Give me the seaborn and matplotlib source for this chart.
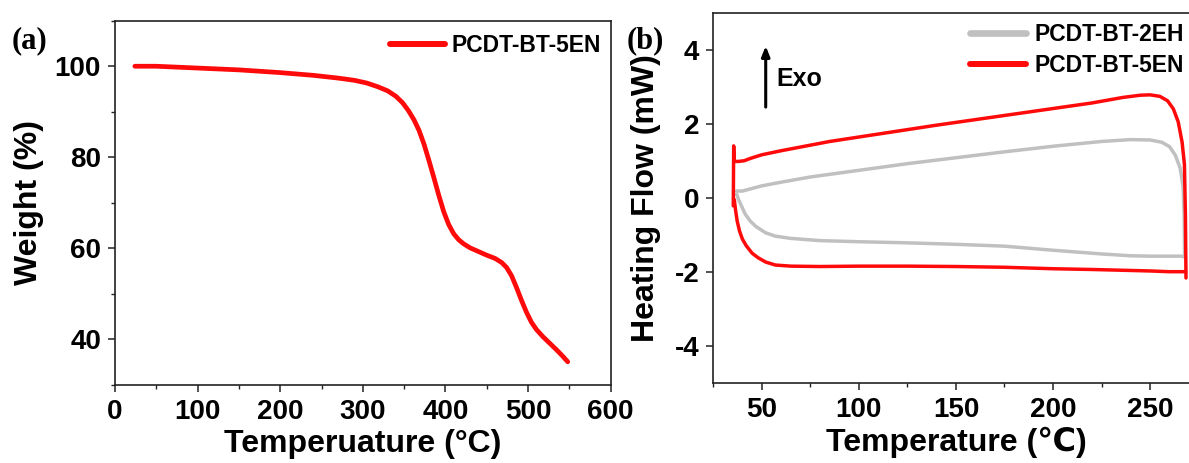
import numpy as np
import pandas as pd
import seaborn as sns
import matplotlib.pyplot as plt
from matplotlib.ticker import MultipleLocator
from matplotlib.lines import Line2D

# ---- TGA: PCDT-BT-5EN ----
tga_temp = [24, 50, 100, 150, 200, 240, 270, 290, 305, 318, 330, 340, 348,
            355, 362, 368, 374, 380, 386, 392, 398, 404, 410, 416, 422, 430,
            440, 450, 460, 468, 474, 480, 486, 492, 498, 504, 510, 518, 526,
            534, 541, 548]
tga_weight = [100.0, 100.0, 99.6, 99.2, 98.6, 98.0, 97.4, 96.9, 96.3, 95.5,
              94.6, 93.4, 92.0, 90.3, 88.2, 85.9, 82.9, 79.3, 75.5, 71.6,
              68.0, 65.2, 63.2, 61.9, 61.0, 60.1, 59.3, 58.5, 57.8, 56.9,
              55.8, 54.0, 51.4, 48.6, 46.0, 43.8, 42.2, 40.6, 39.2, 37.8,
              36.5, 35.1]

# ---- DSC: heating / cooling scans ----
eh_heat_temp = [37, 40, 45, 50, 60, 75, 100, 125, 150, 175, 200, 225, 240,
                250, 256, 260, 263, 265.5, 267, 267.6, 267.8]
eh_heat_flow = [0.18, 0.18, 0.25, 0.32, 0.42, 0.56, 0.74, 0.92, 1.08, 1.24,
                1.39, 1.52, 1.57, 1.56, 1.50, 1.38, 1.15, 0.80, 0.30, -0.50,
                -1.60]
eh_cool_temp = [267.8, 266, 250, 240, 225, 200, 175, 150, 125, 100, 80, 65,
                57, 52, 47, 44, 41.5, 39.5, 38, 37]
eh_cool_flow = [-1.60, -1.58, -1.58, -1.57, -1.52, -1.42, -1.31, -1.26,
                -1.22, -1.19, -1.16, -1.10, -1.04, -0.95, -0.78, -0.63,
                -0.45, -0.22, -0.05, 0.10]

en_heat_temp = [35.3, 35.5, 35.7, 36.5, 38, 41, 44, 50, 60, 70, 85, 100, 120,
                140, 160, 180, 200, 220, 236, 245, 250, 255, 259, 262, 264.5,
                266.5, 267.7, 268.2, 268.5]
en_heat_flow = [-0.22, 1.40, 1.00, 0.98, 0.98, 1.00, 1.06, 1.16, 1.27, 1.37,
                1.52, 1.64, 1.80, 1.96, 2.11, 2.26, 2.41, 2.56, 2.71, 2.77,
                2.78, 2.74, 2.62, 2.40, 2.05, 1.50, 0.90, -0.45, -2.17]
en_cool_temp = [268.3, 266, 260, 250, 235, 220, 200, 175, 150, 125, 100, 80,
                65, 57, 52, 48, 45, 42, 40, 38.5, 37.3, 36.5, 35.8]
en_cool_flow = [-2.00, -2.00, -2.00, -1.98, -1.96, -1.94, -1.92, -1.88,
                -1.86, -1.85, -1.85, -1.86, -1.85, -1.82, -1.74, -1.62,
                -1.50, -1.30, -1.12, -0.90, -0.63, -0.35, -0.05]

label_2eh = "PCDT-BT-2EH"
label_5en = "PCDT-BT-5EN"
RED = "#ff0a0a"
GRAY = "#c0c0c0"

tga = pd.DataFrame({"T": tga_temp, "W": tga_weight})

frames = []
for name, seg, t, q in [
    (label_2eh, "heat", eh_heat_temp, eh_heat_flow),
    (label_2eh, "cool", eh_cool_temp, eh_cool_flow),
    (label_5en, "heat", en_heat_temp, en_heat_flow),
    (label_5en, "cool", en_cool_temp, en_cool_flow),
]:
    frames.append(pd.DataFrame({"T": t, "Q": q, "sample": name, "scan": seg}))
dsc = pd.concat(frames, ignore_index=True)

sns.set_theme(style="ticks")
plt.rcParams["font.family"] = ["Liberation Sans", "DejaVu Sans"]
plt.rcParams["font.weight"] = "bold"
plt.rcParams["axes.labelweight"] = "bold"
plt.rcParams["axes.unicode_minus"] = False
plt.rcParams["text.color"] = "black"
plt.rcParams["axes.labelcolor"] = "black"
plt.rcParams["xtick.color"] = "black"
plt.rcParams["ytick.color"] = "black"
plt.rcParams["lines.solid_joinstyle"] = "round"
plt.rcParams["lines.solid_capstyle"] = "round"

W, H = 1189, 463
fig = plt.figure(figsize=(W / 100, H / 100), dpi=100)
ax_a = fig.add_axes([115 / W, 1 - 385 / H, (610.7 - 115) / W, (385 - 20.7) / H])
ax_b = fig.add_axes([713.3 / W, 1 - 382.7 / H, (1198.6 - 713.3) / W, (382.7 - 12.7) / H])

# (a) TGA curve
sns.lineplot(data=tga, x="T", y="W", ax=ax_a, color=RED, linewidth=3.4,
             sort=False, estimator=None, legend=False)
ax_a.set_xlim(0, 600)
ax_a.set_ylim(30, 110)
ax_a.xaxis.set_major_locator(MultipleLocator(100))
ax_a.xaxis.set_minor_locator(MultipleLocator(50))
ax_a.yaxis.set_minor_locator(MultipleLocator(10))
ax_a.set_yticks([40, 60, 80, 100])
ax_a.set_xlabel("Temperuature (°C)", fontsize=23, labelpad=3)
ax_a.set_ylabel("Weight (%)", fontsize=23, labelpad=8)

# (b) DSC loops
sns.lineplot(data=dsc, x="T", y="Q", hue="sample", units="scan", ax=ax_b,
             palette={label_2eh: GRAY, label_5en: RED},
             hue_order=[label_2eh, label_5en], linewidth=2.5,
             sort=False, estimator=None, legend=False)
ax_b.set_xlim(25, 275)
ax_b.set_ylim(-5, 5)
ax_b.xaxis.set_major_locator(MultipleLocator(50))
ax_b.xaxis.set_minor_locator(MultipleLocator(25))
ax_b.set_yticks([-4, -2, 0, 2, 4])
ax_b.set_xlabel("Temperature (℃)", fontsize=23, labelpad=3)
ax_b.set_ylabel("Heating Flow (mW)", fontsize=23, labelpad=10)

for ax in (ax_a, ax_b):
    for sp in ax.spines.values():
        sp.set_visible(True)
        sp.set_color("#222222")
        sp.set_linewidth(1.2)
    ax.tick_params(which="major", direction="out", length=5, width=1.1,
                   color="#222222", labelcolor="black", labelsize=20, pad=5,
                   top=False, right=False)
    ax.tick_params(which="minor", direction="out", length=3, width=1.0,
                   color="#222222", top=False, right=False)
    for lab in ax.get_xticklabels() + ax.get_yticklabels():
        lab.set_fontweight("bold")
    ax.grid(False)

# legends
leg_a = ax_a.legend([Line2D([], [], color=RED, lw=4.3)], [label_5en],
                    loc="center right", bbox_to_anchor=(0.98, 0.933),
                    frameon=False, fontsize=16.5, handlelength=2.4,
                    handletextpad=0.3, borderpad=0, borderaxespad=0)
leg_b = ax_b.legend([Line2D([], [], color=GRAY, lw=4.8),
                     Line2D([], [], color=RED, lw=4.3)],
                    [label_2eh, label_5en],
                    loc="center left", bbox_to_anchor=(0.529, 0.899),
                    frameon=False, fontsize=16.5, handlelength=2.45,
                    handletextpad=0.35, labelspacing=0.38,
                    borderpad=0, borderaxespad=0)
for leg in (leg_a, leg_b):
    for t in leg.get_texts():
        t.set_fontweight("bold")
        t.set_color("black")

# exotherm direction marker
ax_b.annotate("", xy=(52, 4.1), xytext=(52, 2.45),
              arrowprops=dict(arrowstyle="-|>,head_length=0.5,head_width=0.2",
                              color="black", lw=2.2, shrinkA=0, shrinkB=0))
ax_b.text(57.5, 3.22, "Exo", fontsize=18, fontweight="bold", va="center",
          ha="left")

# panel letters
fig.text(12 / W, 1 - 41 / H, "(a)", fontsize=22, fontweight="bold",
         family=["Liberation Serif", "DejaVu Serif"], va="center", ha="left")
fig.text(627 / W, 1 - 41 / H, "(b)", fontsize=22, fontweight="bold",
         family=["Liberation Serif", "DejaVu Serif"], va="center", ha="left")

fig.savefig("out.png", dpi=100)
